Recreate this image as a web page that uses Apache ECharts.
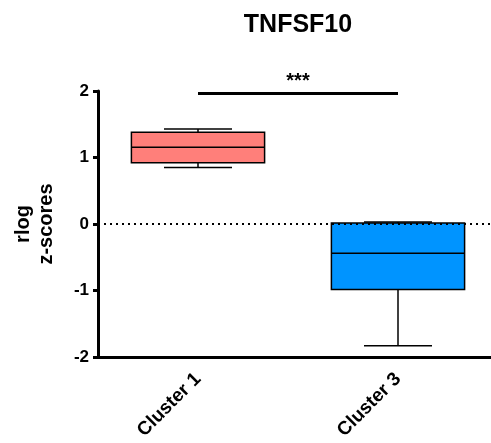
<!DOCTYPE html>
<html>
<head>
<meta charset="utf-8">
<script src="https://cdn.jsdelivr.net/npm/echarts@6/dist/echarts.min.js"></script>
<style>html,body{margin:0;padding:0;background:#fff}#c{width:491px;height:443px}</style>
</head>
<body>
<div id="c"></div>
<script>
const title = 'TNFSF10';
const categories = ['Cluster 1', 'Cluster 3'];
const mins = [0.85, -1.83];
const q1s = [0.92, -0.985];
const medians = [1.155, -0.44];
const q3s = [1.38, 0.015];
const maxs = [1.43, 0.03];
const boxColors = ['#FF7F7A', '#0094FF'];
const yTicks = [-2, -1, 0, 1, 2];
const sigLevel = 1.97;
const sigLabel = '***';

const FONT = 'Liberation Sans, Arial, sans-serif';
const data = categories.map((c, i) => [i, mins[i], q1s[i], medians[i], q3s[i], maxs[i]]);

const chart = echarts.init(document.getElementById('c'), null, {renderer: 'canvas'});
chart.setOption({
  animation: false,
  backgroundColor: '#fff',
  title: {
    text: title, left: 293, top: 8, textAlign: 'center',
    textStyle: {fontFamily: FONT, fontSize: 25, fontWeight: 'bold', color: '#000'}
  },
  grid: {left: 98, top: 91, bottom: 86, width: 400, containLabel: false, outerBoundsMode: 'none'},
  xAxis: {
    type: 'category', data: categories, boundaryGap: true,
    axisLine: {onZero: false, lineStyle: {color: '#000', width: 3}},
    axisTick: {alignWithLabel: true, length: 5, lineStyle: {color: '#000', width: 3}},
    axisLabel: {rotate: 45, margin: 19, fontFamily: FONT, fontSize: 19, fontWeight: 'bold', color: '#000'},
    splitLine: {show: false}
  },
  yAxis: {
    type: 'value', min: yTicks[0], max: yTicks[yTicks.length - 1], interval: 1,
    name: 'rlog\nz-scores', nameLocation: 'middle', nameGap: 40, nameRotate: 90,
    nameTextStyle: {fontFamily: FONT, fontSize: 20, fontWeight: 'bold', color: '#000', lineHeight: 23, align: 'center'},
    axisLine: {show: true, lineStyle: {color: '#000', width: 3}},
    axisTick: {show: true, length: 5, lineStyle: {color: '#000', width: 3}},
    axisLabel: {margin: 9, fontFamily: FONT, fontSize: 17, fontWeight: 'bold', color: '#000'},
    splitLine: {show: false}
  },
  series: [{
    type: 'custom',
    data: data,
    encode: {x: 0, y: [1, 2, 3, 4, 5]},
    clip: false,
    renderItem: function (params, api) {
      const idx = api.value(0);
      const band = api.size([1, 0])[0];
      const hw = band * 0.333;
      const cw = band * 0.17;
      const pMin = api.coord([idx, api.value(1)]);
      const pQ1 = api.coord([idx, api.value(2)]);
      const pMed = api.coord([idx, api.value(3)]);
      const pQ3 = api.coord([idx, api.value(4)]);
      const pMax = api.coord([idx, api.value(5)]);
      const cx = pMed[0];
      const ls = {stroke: '#000', lineWidth: 1.5};
      return {
        type: 'group',
        children: [
          {type: 'line', shape: {x1: cx, y1: pMax[1], x2: cx, y2: pQ3[1]}, style: ls},
          {type: 'line', shape: {x1: cx, y1: pQ1[1], x2: cx, y2: pMin[1]}, style: ls},
          {type: 'line', shape: {x1: cx - cw, y1: pMax[1], x2: cx + cw, y2: pMax[1]}, style: ls},
          {type: 'line', shape: {x1: cx - cw, y1: pMin[1], x2: cx + cw, y2: pMin[1]}, style: ls},
          {type: 'rect', shape: {x: cx - hw, y: pQ3[1], width: 2 * hw, height: pQ1[1] - pQ3[1]},
            style: {fill: boxColors[idx], stroke: '#000', lineWidth: 1.5}},
          {type: 'line', shape: {x1: cx - hw, y1: pMed[1], x2: cx + hw, y2: pMed[1]}, style: ls}
        ]
      };
    },
    markLine: {
      silent: true, symbol: 'none', animation: false,
      data: [
        {yAxis: 0, lineStyle: {color: '#000', width: 2, type: [2, 4]}, label: {show: false}},
        [{coord: [categories[0], sigLevel], lineStyle: {color: '#000', width: 3, type: 'solid'},
          label: {show: true, formatter: sigLabel, position: 'middle', distance: 2, fontFamily: FONT, fontSize: 20, fontWeight: 'bold', color: '#000'}},
         {coord: [categories[1], sigLevel]}]
      ]
    }
  }]
});
</script>
</body>
</html>
